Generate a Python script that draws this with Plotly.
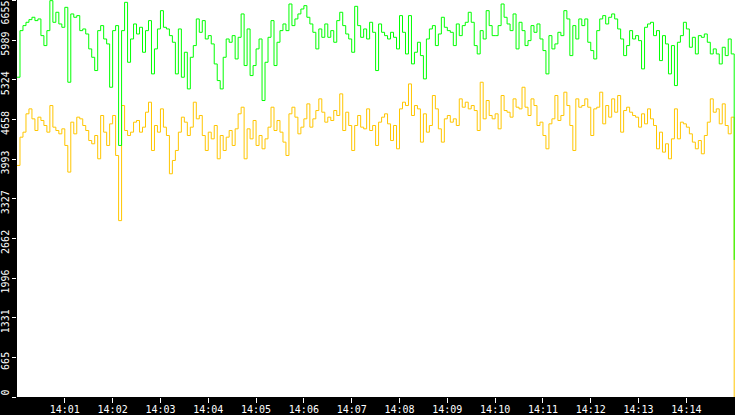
import pandas as pd
import plotly.graph_objects as go

# время: отсчёт каждые 3.75 с с 14:00:00 до 14:15:00
times = pd.date_range("2024-01-01 14:00:00", periods=241, freq="3750ms")

# верхняя (зелёная) линия
green = [
    5366, 6148, 6232, 6288, 6333, 6372, 6316, 6344, 6064, 5897,
    6148, 6651, 6288, 6456, 6260, 6204, 6539, 5282, 6428, 6372,
    6400, 6148, 6176, 6092, 5841, 5701, 5478, 6148, 6232, 6008,
    5925, 5198, 6148, 6232, 4221, 6148, 6623, 5617, 6008, 6260,
    6092, 6204, 5785, 6148, 6316, 5422, 5841, 6176, 6483, 6204,
    6176, 6064, 5953, 5422, 6176, 5366, 5785, 5170, 5701, 5897,
    6344, 6120, 6316, 6008, 6064, 5925, 5589, 5310, 5170, 5701,
    6008, 5953, 6064, 5673, 6036, 6428, 5562, 6176, 5394, 5562,
    5841, 6008, 4975, 5617, 6036, 6316, 5562, 5953, 6148, 6260,
    6148, 6595, 6232, 6344, 6428, 6511, 6567, 6372, 6260, 6120,
    5841, 6176, 6036, 6260, 6036, 6148, 5953, 6316, 6456, 6232,
    6092, 6008, 5785, 6556, 6232, 6036, 6176, 6008, 6288, 6120,
    5478, 6260, 6120, 6064, 6008, 6120, 6036, 5841, 6400, 6120,
    5757, 6400, 5590, 5785, 5953, 5729, 5338, 6008, 6176, 6232,
    5897, 6092, 6372, 6204, 6148, 6120, 5897, 6260, 6064, 6232,
    6288, 6456, 6288, 5897, 5757, 6148, 6008, 6483, 6232, 6064,
    6064, 6232, 6595, 6372, 6260, 6148, 6428, 5841, 6288, 6148,
    5897, 5980, 6232, 6120, 6260, 6008, 5813, 5422, 6064, 5841,
    5925, 6120, 6064, 6483, 6344, 5729, 6232, 6008, 6344, 6232,
    6344, 5953, 5813, 5673, 6148, 6344, 6400, 6260, 6372, 6428,
    6344, 6176, 6008, 5729, 5897, 6148, 6008, 6064, 5980, 5506,
    6204, 6260, 6288, 6064, 6148, 5645, 6064, 5925, 5422, 5897,
    5226, 5953, 6064, 6288, 6176, 5869, 6036, 5757, 6064, 6036,
    6092, 5953, 5757, 5841, 5757, 5589, 5869, 5729, 6008, 5757,
    2300,
]

# нижняя (жёлтая) линия
yellow = [
    3886, 4360, 4444, 4752, 4835, 4668, 4472, 4696, 4640, 4556,
    4444, 4891, 4528, 4472, 4416, 4500, 4221, 3774, 4612, 4416,
    4696, 4668, 4556, 4472, 4304, 4249, 4388, 3997, 4724, 4444,
    4221, 4584, 4724, 4053, 2960, 4891, 4472, 4388, 4444, 4612,
    4640, 4444, 4528, 4779, 4947, 4137, 4556, 4444, 4835, 4528,
    4388, 3746, 3969, 4137, 4444, 4696, 4612, 4388, 4528, 4947,
    4668, 4724, 4388, 4137, 4444, 4332, 4556, 3997, 4388, 4137,
    4360, 4472, 4221, 4500, 4752, 4863, 3997, 4500, 4332, 4640,
    4221, 4388, 4165, 4332, 4528, 4863, 4472, 4640, 4444, 4277,
    4053, 4752, 4863, 4696, 4416, 4528, 4668, 4919, 4528, 4668,
    4807, 5003, 4779, 4612, 4696, 4640, 4807, 4724, 5087, 4472,
    4779, 4556, 4137, 4556, 4724, 4528, 4500, 4835, 4472, 4556,
    4221, 4612, 4696, 4752, 4584, 4304, 4556, 4165, 4835, 4947,
    4891, 5254, 4724, 4891, 4835, 4277, 4752, 4444, 4556, 5059,
    4835, 4500, 4277, 4668, 4724, 4612, 4668, 4556, 5003, 4863,
    4947, 4835, 4891, 4807, 4472, 5282, 4668, 4975, 4724, 4668,
    4752, 4500, 5059, 4807, 4779, 4696, 5003, 4863, 4835, 5198,
    4863, 4724, 5003, 4891, 4556, 4612, 4388, 4165, 4584, 4668,
    5059, 4640, 4724, 5115, 4891, 4556, 4137, 5003, 4863, 4891,
    5003, 4863, 4388, 4835, 4863, 5115, 4584, 4891, 4696, 5003,
    4779, 5059, 4444, 4807, 4863, 4779, 4724, 4696, 4528, 4752,
    4584, 4835, 4668, 4556, 4165, 4444, 4109, 4249, 3997, 4332,
    4835, 4332, 4612, 4584, 4528, 4416, 4277, 4165, 4304, 4081,
    4388, 4612, 5003, 4779, 4835, 4584, 4919, 4556, 4416, 4696,
    0,
]

y_ticks = [0, 665, 1331, 1996, 2662, 3327, 3993, 4658, 5324, 5989, 6655]
x_ticks = ["14:%02d" % m for m in range(1, 15)]

fig = go.Figure()
fig.add_trace(go.Scatter(x=times, y=yellow, mode="lines",
                         line=dict(color="#FFC600", width=1, shape="hv")))
fig.add_trace(go.Scatter(x=times, y=green, mode="lines",
                         line=dict(color="#00FF00", width=1, shape="hv")))

tick_font = dict(family="DejaVu Sans Mono", size=10, color="white")

# крайние подписи шкалы ставим отдельно, чтобы они не обрезались
y_text = [""] + [str(v) for v in y_ticks[1:-1]] + [""]
fig.add_annotation(text=str(y_ticks[-1]), textangle=-90,
                   xref="paper", yref="paper", x=0, y=1,
                   xanchor="right", yanchor="top", xshift=-5, yshift=1,
                   showarrow=False, font=tick_font)
fig.add_annotation(text=str(y_ticks[0]), textangle=-90,
                   xref="paper", yref="paper", x=0, y=0,
                   xanchor="right", yanchor="bottom", xshift=-5, yshift=-1,
                   showarrow=False, font=tick_font)

fig.update_layout(
    width=735, height=415,
    margin=dict(l=15, r=0, t=0, b=16),
    paper_bgcolor="black",
    plot_bgcolor="white",
    showlegend=False,
    xaxis=dict(
        range=["2024-01-01 14:00:00", "2024-01-01 14:15:01"],
        tickvals=["2024-01-01 " + t + ":00" for t in x_ticks],
        ticktext=x_ticks,
        ticks="outside", ticklen=5, tickcolor="white", tickwidth=1,
        ticklabelstandoff=-2,
        showgrid=False, zeroline=False, showline=False,
        tickfont=tick_font,
    ),
    yaxis=dict(
        range=[0, 6662],
        tickvals=y_ticks,
        ticktext=y_text,
        tickangle=-90,
        ticks="outside", ticklen=4, tickcolor="white", tickwidth=1,
        ticklabelstandoff=-1,
        ticklabelshift=5,
        showgrid=False, zeroline=False, showline=False,
        tickfont=tick_font,
    ),
)

# убрать отступ страницы, чтобы график встал в окно целиком
fig.write_html("out.html", config={"displayModeBar": False},
               post_script="document.body.style.margin='0';")
